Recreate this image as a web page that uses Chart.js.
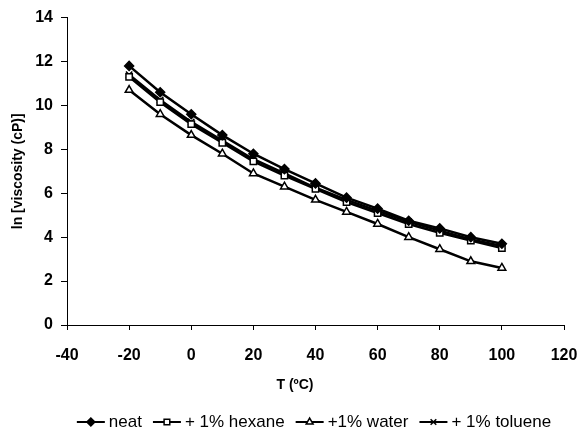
<!DOCTYPE html>
<html lang="en">
  <head>
    <meta charset="UTF-8" />
    <title>Viscosity vs temperature</title>
    <script src="https://cdn.jsdelivr.net/npm/chart.js@4.4.0/dist/chart.umd.min.js"></script>
    <style>
      body { margin: 0; background: #fff; }
      #wrap { width: 580px; height: 432px; }
    </style>
  </head>
  <body>
    <div id="wrap">
      <canvas id="myChart" width="580" height="432"></canvas>
    </div>

    <script>
      // temperature (C)
      var temps = [-20, -10, 0, 10, 20, 30, 40, 50, 60, 70, 80, 90, 100];

      // ln viscosity (cP)
      var neat = [11.8, 10.6, 9.6, 8.65, 7.8, 7.1, 6.45, 5.8, 5.3, 4.75, 4.4, 4.0, 3.7];
      var hexane = [11.3, 10.15, 9.15, 8.3, 7.45, 6.8, 6.2, 5.6, 5.1, 4.6, 4.2, 3.85, 3.5];
      var water = [10.7, 9.6, 8.65, 7.8, 6.9, 6.3, 5.7, 5.15, 4.6, 4.0, 3.45, 2.9, 2.6];
      var toluene = [11.4, 10.25, 9.25, 8.4, 7.55, 6.9, 6.25, 5.7, 5.2, 4.7, 4.3, 3.9, 3.6];

      var seriesNames = ["neat", "+ 1% hexane", "+1% water", "+ 1% toluene"];
      var seriesValues = [neat, hexane, water, toluene];
      var markers = ["rectRot", "rect", "triangle", "crossRot"];
      var fills = ["#000", "#fff", "#fff", "#000"];
      var xTitle = "T (ºC)";

      function toPoints(vals) {
        return vals.map(function (v, i) {
          return { x: temps[i], y: v };
        });
      }

      var datasets = [];
      for (var i = 0; i < seriesNames.length; i++) {
        datasets.push({
          label: seriesNames[i],
          data: toPoints(seriesValues[i]),
          borderColor: "#000",
          borderWidth: 2.5,
          backgroundColor: fills[i],
          pointStyle: markers[i],
          pointRadius: 4.5,
          pointBorderWidth: 1.5,
          pointBorderColor: "#000",
          pointBackgroundColor: fills[i],
          tension: 0,
        });
      }

      // bottom legend drawn by hand: line + marker + label, like the original
      // (x axis title too, it sits a bit left of centre in the original)
      var lineLegend = {
        id: "lineLegend",
        afterDraw: function (chart) {
          var ctx = chart.ctx;
          ctx.save();
          ctx.fillStyle = "#000";
          ctx.textBaseline = "middle";
          ctx.textAlign = "center";
          ctx.font = "bold 14px 'Liberation Sans', Arial, sans-serif";
          ctx.fillText(xTitle, 295, 385);

          var sampleW = 28, gap = 4, itemGap = 11, y = 422;
          ctx.font = "17px 'Liberation Sans', Arial, sans-serif";
          var total = 0;
          var widths = seriesNames.map(function (n) {
            return ctx.measureText(n).width;
          });
          widths.forEach(function (w) { total += sampleW + gap + w; });
          total += itemGap * (seriesNames.length - 1);
          var x = 314 - total / 2;
          for (var k = 0; k < seriesNames.length; k++) {
            ctx.strokeStyle = "#000";
            ctx.lineWidth = 2;
            ctx.beginPath();
            ctx.moveTo(x, y);
            ctx.lineTo(x + sampleW, y);
            ctx.stroke();
            ctx.fillStyle = fills[k];
            ctx.lineWidth = 1.5;
            Chart.helpers.drawPoint(ctx, { pointStyle: markers[k], radius: 4, borderWidth: 1.5 }, x + sampleW / 2, y);
            ctx.fillStyle = "#000";
            ctx.textAlign = "left";
            ctx.fillText(seriesNames[k], x + sampleW + gap, y);
            x += sampleW + gap + widths[k] + itemGap;
          }
          ctx.restore();
        },
      };

      var ctx = document.getElementById("myChart").getContext("2d");
      var myChart = new Chart(ctx, {
        type: "line",
        data: { datasets: datasets },
        plugins: [lineLegend],
        options: {
          responsive: false,
          animation: false,
          layout: { padding: { top: 17, right: 16, bottom: 30, left: 0 } },
          plugins: {
            legend: { display: false },
            tooltip: { enabled: false },
          },
          scales: {
            x: {
              type: "linear",
              min: -40,
              max: 120,
              afterFit: function (scale) {
                scale.height = 77;
                // tick padding is only wanted vertically
                scale.paddingLeft = 14;
                scale.paddingRight = 14;
              },
              ticks: {
                stepSize: 20,
                color: "#000",
                padding: 16,
                font: { family: "'Liberation Sans', Arial", size: 16, weight: "bold" },
              },
              grid: { drawOnChartArea: false, drawTicks: true, tickLength: 5, color: "#000" },
              border: { color: "#000", width: 1 },
            },
            y: {
              min: 0,
              max: 14,
              afterFit: function (scale) { scale.width = 67; },
              ticks: {
                stepSize: 2,
                color: "#000",
                padding: 8,
                font: { family: "'Liberation Sans', Arial", size: 16, weight: "bold" },
              },
              grid: { drawOnChartArea: false, drawTicks: true, tickLength: 6, color: "#000" },
              border: { color: "#000", width: 1 },
              title: {
                display: true,
                text: "ln [viscosity (cP)]",
                color: "#000",
                padding: { top: 10, bottom: 0 },
                font: { family: "'Liberation Sans', Arial", size: 14, weight: "bold" },
              },
            },
          },
        },
      });
    </script>
  </body>
</html>
